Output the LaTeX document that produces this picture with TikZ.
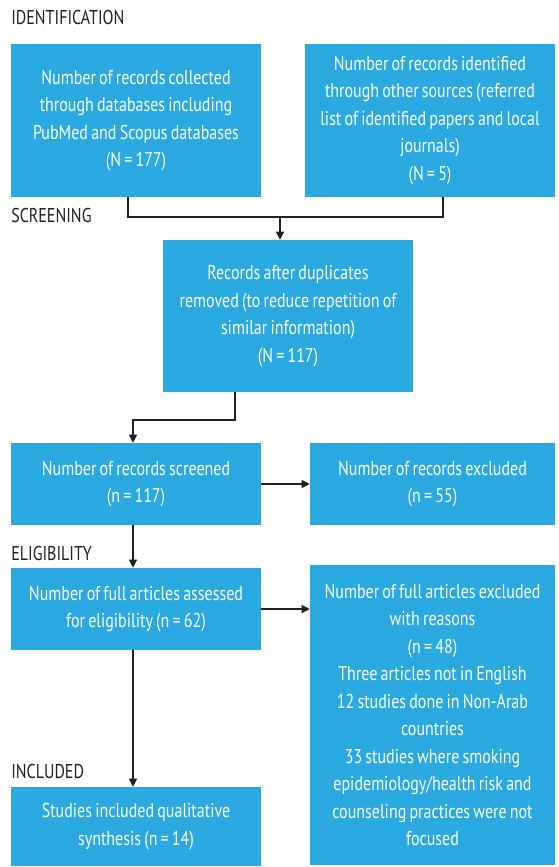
\documentclass[tikz,border=0pt]{standalone}
\usepackage{fontspec}
\setmainfont{PT Sans}[FakeStretch=0.8, WordSpace=0.75]
\usetikzlibrary{arrows.meta}
\definecolor{boxblue}{RGB}{41,169,224}
\definecolor{labelgray}{RGB}{35,31,32}
\tikzset{
  stagebox/.style={fill=boxblue, text=white, align=center, inner sep=0pt,
    font=\fontsize{15}{20.6}\selectfont},
  stagelabel/.style={anchor=west, text=labelgray, inner sep=0pt,
    font=\fontsize{15}{17}\selectfont},
  flow/.style={-{Triangle[width=6pt,length=6pt]}, line width=0.8pt, labelgray}
}
\begin{document}
\begin{tikzpicture}[x=0.75pt,y=-0.75pt]
        \useasboundingbox (0,0) rectangle (558,867);

        % stage labels
        \node[stagelabel] (identlab) at (11,18) {IDENTIFICATION};
        \node[stagelabel] (screenlab) at (11,215) {SCREENING};
        \node[stagelabel] (eliglab) at (11,553) {ELIGIBILITY};
        \node[stagelabel] (inclab) at (11,771) {INCLUDED};

        % boxes
        \node[stagebox, minimum width=187.5pt, minimum height=114.75pt] (dbrec) at (136,120.5)
          {Number of records collected\\through databases including\\PubMed and Scopus databases\\(N = 177)};
        \node[stagebox, minimum width=187.5pt, minimum height=114.75pt] (otherrec) at (430,120.5)
          {Number of records identified\\through other sources (referred\\list of identified papers and local\\journals)\\(N = 5)};
        \node[stagebox, minimum width=187.5pt, minimum height=114pt] (dupl) at (288,316)
          {Records after duplicates\\removed (to reduce repetition of\\similar information)\\(N = 117)};
        \node[stagebox, minimum width=187.5pt, minimum height=61.5pt] (screened) at (136,484)
          {Number of records screened\\(n = 117)};
        \node[stagebox, minimum width=183.75pt, minimum height=61.5pt] (excl) at (432.5,484)
          {Number of records excluded\\(n = 55)};
        \node[stagebox, minimum width=187.5pt, minimum height=61.5pt] (fullart) at (136,609)
          {Number of full articles assessed\\for eligibility (n = 62)};
        \node[stagebox, minimum width=183.75pt, minimum height=225pt] (fullexcl) at (432.5,715)
          {Number of full articles excluded\\with reasons\\(n = 48)\\Three articles not in English\\12 studies done in Non-Arab\\countries\\33 studies where smoking\\epidemiology/health risk and\\counseling practices were not\\focused};
        \node[stagebox, minimum width=187.5pt, minimum height=59.25pt] (incl) at (136,826.5)
          {Studies included qualitative\\synthesis (n = 14)};

        % connectors
        \coordinate (merge) at (280,217);
        \draw[line width=0.8pt, labelgray] (dbrec.south -| 128,0) |- (merge) -| (otherrec.south -| 443,0);
        \draw[flow] (merge) -- (merge |- dupl.north);
        \coordinate (bend) at (235,420);
        \draw[flow] (dupl.south -| bend) -- (bend) -| (screened.north -| 133,0);
        \draw[flow] (screened.east) -- (excl.west);
        \draw[flow] (screened.south -| 133,0) -- (fullart.north -| 133,0);
        \draw[flow] (fullart.east) -- (fullart.east -| fullexcl.west);
        \draw[flow] (fullart.south -| 133,0) -- (incl.north -| 133,0);
    \end{tikzpicture}
\end{document}
